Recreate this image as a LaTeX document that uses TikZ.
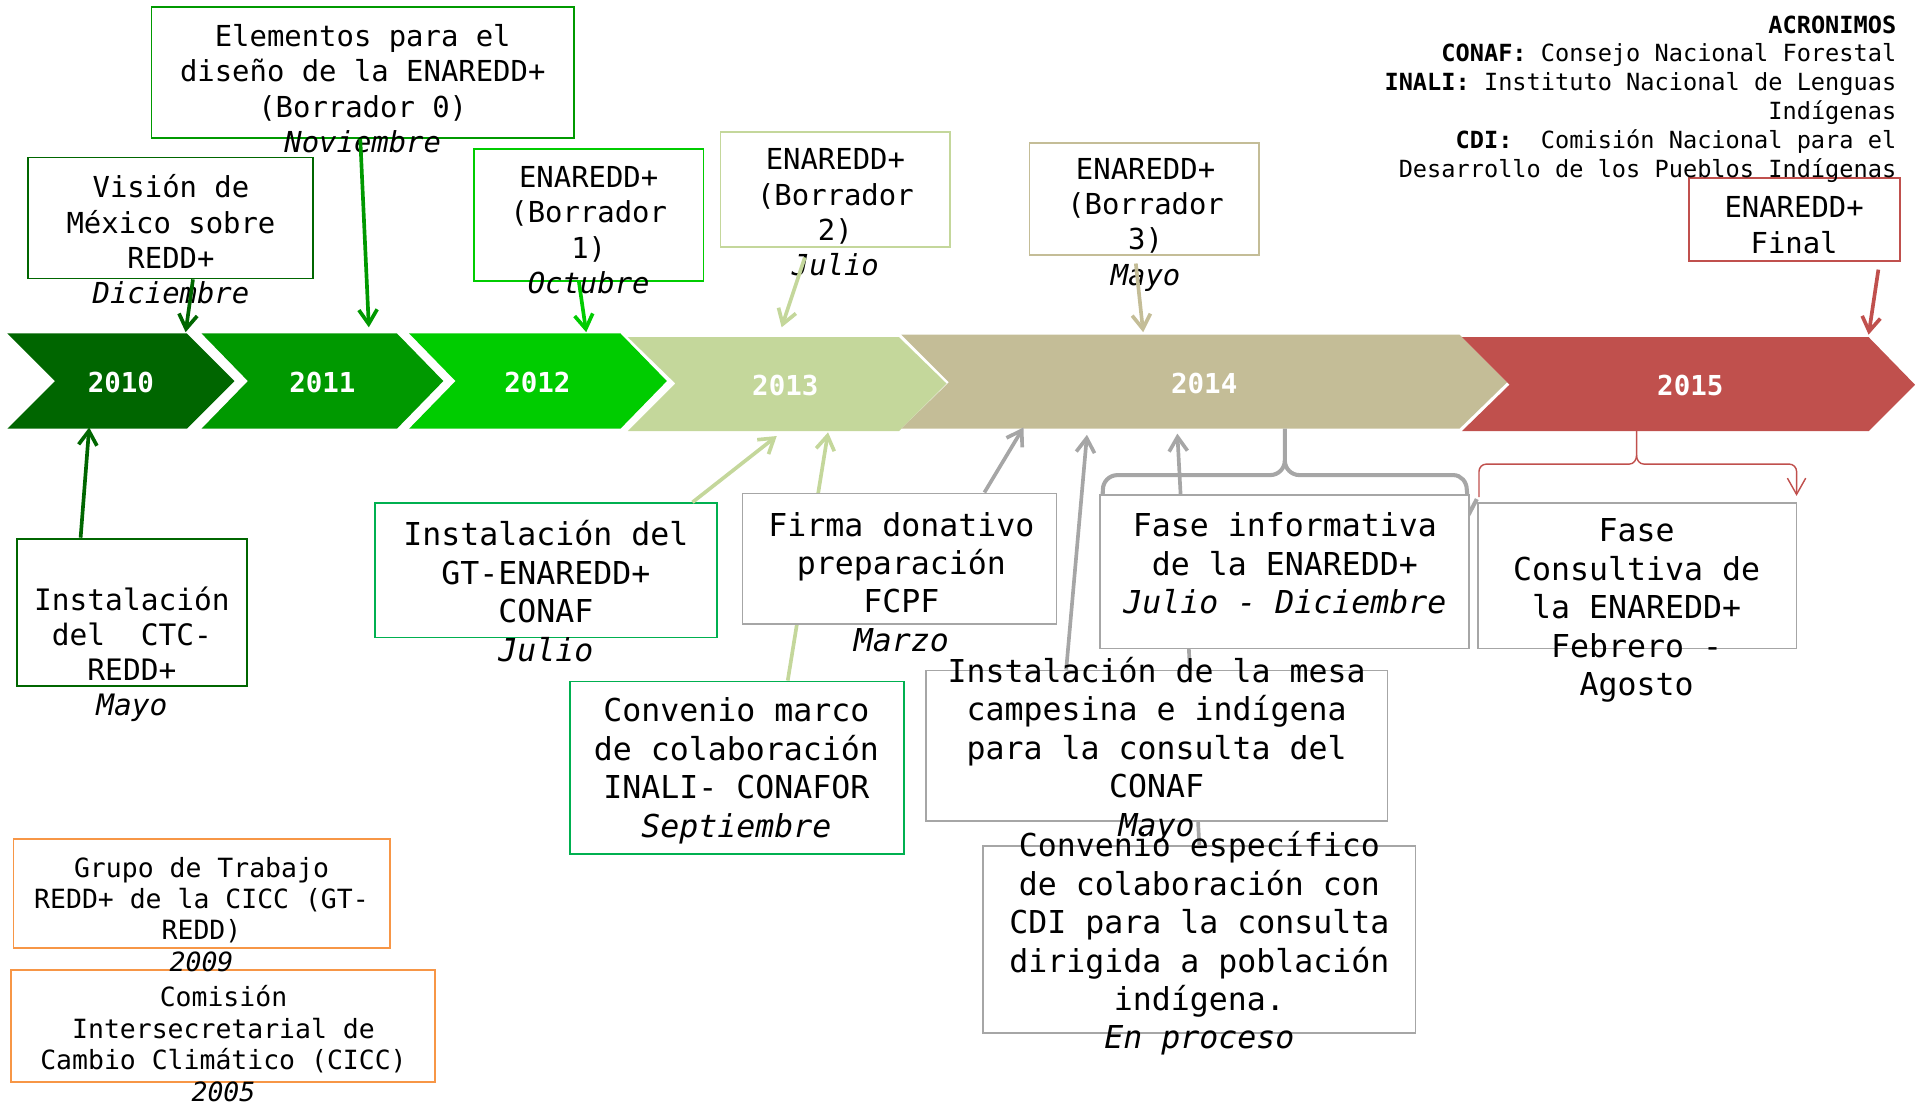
\documentclass[tikz,border=0pt]{standalone}
\usepackage{fontspec}
\setmainfont{DejaVu Sans Mono}
\usetikzlibrary{arrows.meta,fit}
\definecolor{cA}{HTML}{006600}
\definecolor{cB}{HTML}{009900}
\definecolor{cC}{HTML}{00CC00}
\definecolor{cD}{HTML}{C4D79B}
\definecolor{cE}{HTML}{C4BD97}
\definecolor{cF}{HTML}{C0504D}
\definecolor{cG}{HTML}{00B050}
\definecolor{cGray}{HTML}{A6A6A6}
\definecolor{cOr}{HTML}{F79646}
\begin{document}
\begin{tikzpicture}[x=0.6pt,y=-0.6pt,
  boxe/.style={inner sep=0pt, line width=0.9pt, fill=white},
  tA/.style={font=\fontsize{14.2}{17.4}\selectfont, align=center, inner sep=0pt},
  tB/.style={font=\fontsize{15.5}{18.9}\selectfont, align=center, inner sep=0pt},
  tC/.style={font=\fontsize{14.5}{17.2}\selectfont, align=center, inner sep=0pt},
  tO/.style={font=\fontsize{13}{15.4}\selectfont, align=center, inner sep=0pt},
  yr/.style={font=\bfseries\fontsize{13.5}{15}\selectfont, text=white, inner sep=0pt},
  arr/.style={line width=1.8pt, -{Straight Barb[length=7pt,width=9pt]}},
]
\useasboundingbox (0,0) rectangle (1568,904);

% chevrons
\fill[cA] (6,273) -- (153,273) -- (192,312) -- (153,351) -- (6,351) -- (45,312) -- cycle;
\fill[cB] (165,273) -- (325,273) -- (363,312) -- (325,351) -- (165,351) -- (203,312) -- cycle;
\fill[cC] (335,273) -- (508,273) -- (546,312) -- (508,351) -- (335,351) -- (373,312) -- cycle;
\fill[cD] (514,276) -- (736,276) -- (775,314) -- (736,353) -- (514,353) -- (553,314) -- cycle;
\fill[cE] (738,274) -- (1195,274) -- (1234,313) -- (1195,351) -- (738,351) -- (777,313) -- cycle;
\fill[cF] (1197,276) -- (1530,276) -- (1568,315) -- (1530,353) -- (1197,353) -- (1236,315) -- cycle;
\node[yr] (y2010) at (99,313) {2010};
\node[yr] (y2011) at (264,313) {2011};
\node[yr] (y2012) at (440,313) {2012};
\node[yr] (y2013) at (643,316) {2013};
\node[yr] (y2014) at (986,314) {2014};
\node[yr] (y2015) at (1384,316) {2015};

% tip coordinates
\coordinate (tVis) at (152,272);
\coordinate (tElem) at (302,268);
\coordinate (tB1) at (480,272);
\coordinate (tB2) at (640,268);
\coordinate (tB3) at (936,272);
\coordinate (tFin) at (1530,274);
\coordinate (tCtc) at (73,350);
\coordinate (tGt) at (636,357);
\coordinate (tMarco) at (678,354);
\coordinate (tFirma) at (838,350);
\coordinate (tMesa) at (890,356);
\coordinate (tEspec) at (964,355);
\coordinate (tInfo) at (1052,351);
\coordinate (tCons) at (1340,353);
\coordinate (infoL) at (902,428);
\coordinate (infoR) at (1203,424);
\coordinate (consL) at (1211,407);
\coordinate (consR) at (1471,406);

% upper box nodes (geometry)
\node[boxe, draw=cA, fit={(23,129) (256,228)}] (vision) {};
\node[boxe, draw=cB, fit={(124,6) (470,113)}] (elem) {};
\node[boxe, draw=cC, fit={(388,122) (576,230)}] (b1) {};
\node[boxe, draw=cD, fit={(590,108) (778,202)}] (b2) {};
\node[boxe, draw=cE, fit={(843,117) (1031,209)}] (b3) {};
\node[boxe, draw=cF, fit={(1383,146) (1556,214)}] (final) {};

% lower boxes whose connectors pass behind other boxes
\node[boxe, draw=cG, fit={(467,558) (740,699)}] (marco) {};
\node[boxe, draw=cGray, fit={(805,693) (1159,846)}] (espec) {};
\draw[arr, cD] ([xshift=24.9pt]marco.north) -- (tMarco);
\draw[arr, cGray] (espec.north) -- (tEspec);
\node[boxe, draw=cGray, fit={(758,549) (1136,672)}] (mesa) {};
\draw[arr, cGray] ([xshift=-44.4pt]mesa.north) -- (tMesa);

% braces
\draw[cGray, line width=2pt] (tInfo) -- (1052,377) to[out=-90,in=0] (1040,389) -- (915,389) to[out=180,in=90] (903,401) -- (infoL);
\draw[cGray, line width=2pt, -{Straight Barb[length=7pt,width=9pt]}] (1052,377) to[out=-90,in=180] (1064,389) -- (1190,389) to[out=0,in=90] (1201,401) -- (infoR);
\draw[cF, line width=0.7pt] (tCons) -- (1340,373) to[out=-90,in=0] (1334,380) -- (1217,380) to[out=180,in=90] (1211,386) -- (consL);
\draw[cF, line width=0.7pt, -{Straight Barb[length=8pt,width=9pt]}] (1340,373) to[out=-90,in=180] (1346,380) -- (1465,380) to[out=0,in=90] (1471,386) -- (consR);

% other lower boxes
\node[boxe, draw=cA, fit={(14,441) (202,562)}] (ctc) {};
\node[boxe, draw=cG, fit={(307,412) (587,522)}] (gt) {};
\node[boxe, draw=cGray, fit={(608,404) (865,511)}] (firma) {};
\node[boxe, draw=cGray, fit={(901,405) (1203,531)}] (info) {};
\node[boxe, draw=cGray, fit={(1210,412) (1471,531)}] (cons) {};
\node[boxe, draw=cOr, fit={(11,687) (319,776)}] (grupo) {};
\node[boxe, draw=cOr, fit={(9,794) (356,886)}] (cicc) {};

% arrows from lower boxes
\draw[arr, cA] ([xshift=-25.2pt]ctc.north) -- (tCtc);
\draw[arr, cD] ([xshift=72pt]gt.north) -- (tGt);
\draw[arr, cGray] ([xshift=41.7pt]firma.north) -- (tFirma);

% texts
\node[tA] (vision-t) at (140,196) {Visión de\\México sobre\\REDD+\\\textit{Diciembre}};
\node[tA] (elem-t) at (297,72.5) {Elementos para el\\diseño de la ENAREDD+\\(Borrador 0)\\\textit{Noviembre}};
\node[tA] (b1-t) at (482,188.5) {ENAREDD+\\(Borrador\\1)\\\textit{Octubre}};
\node[tA] (b2-t) at (684,174) {ENAREDD+\\(Borrador\\2)\\\textit{Julio}};
\node[tA] (b3-t) at (938,184) {ENAREDD+\\(Borrador\\3)\\\textit{Mayo}};
\node[tA] (final-t) at (1469,184.5) {ENAREDD+\\Final};
\node[tC] (ctc-t) at (108,536) {Instalación\\del\ \ CTC-\\REDD+\\\textit{Mayo}};
\node[tB] (gt-t) at (447,484) {Instalación del\\GT-ENAREDD+\\CONAF\\\textit{Julio}};
\node[tB] (firma-t) at (738,476.5) {Firma donativo\\preparación\\FCPF\\\textit{Marzo}};
\node[tB] (marco-t) at (603,631) {Convenio marco\\de colaboración\\INALI- CONAFOR\\\textit{Septiembre}};
\node[tB] (info-t) at (1052,461.5) {Fase informativa\\de la ENAREDD+\\\textit{Julio - Diciembre}};
\node[tB] (cons-t) at (1340,500) {Fase\\Consultiva de\\la ENAREDD+\\Febrero -\\Agosto};
\node[tB] (mesa-t) at (947,614) {Instalación de la mesa\\campesina e indígena\\para la consulta del\\CONAF\\\textit{Mayo}};
\node[tB] (espec-t) at (982,772.5) {Convenio específico\\de colaboración con\\CDI para la consulta\\dirigida a población\\indígena.\\\textit{En proceso}};
\node[tO] (grupo-t) at (165,748.5) {Grupo de Trabajo\\REDD+ de la CICC (GT-\\REDD)\\\textit{2009}};
\node[tO] (cicc-t) at (183,854.5) {Comisión\\Intersecretarial de\\Cambio Climático (CICC)\\\textit{2005}};
\node[font=\fontsize{11.6}{14.15}\selectfont, align=right, inner sep=0pt, anchor=east] (acr) at (1553,81) {\textbf{ACRONIMOS}\\\textbf{CONAF:} Consejo Nacional Forestal\\\textbf{INALI:} Instituto Nacional de Lenguas\\Indígenas\\\textbf{CDI:}\ \ Comisión Nacional para el\\Desarrollo de los Pueblos Indígenas};

% top arrows
\draw[arr, cA] ([xshift=11.1pt]vision.south) -- (tVis);
\draw[arr, cB] ([xshift=-1.2pt]elem.south) -- (tElem);
\draw[arr, cC] ([xshift=-4.8pt]b1.south) -- (tB1);
\draw[arr, cD] ([xshift=-15pt,yshift=-4.8pt]b2.south) -- (tB2);
\draw[arr, cE] ([xshift=-4.2pt,yshift=-3.6pt]b3.south) -- (tB3);
\draw[arr, cF] ([xshift=41.1pt,yshift=-3.6pt]final.south) -- (tFin);
\end{tikzpicture}
\end{document}
